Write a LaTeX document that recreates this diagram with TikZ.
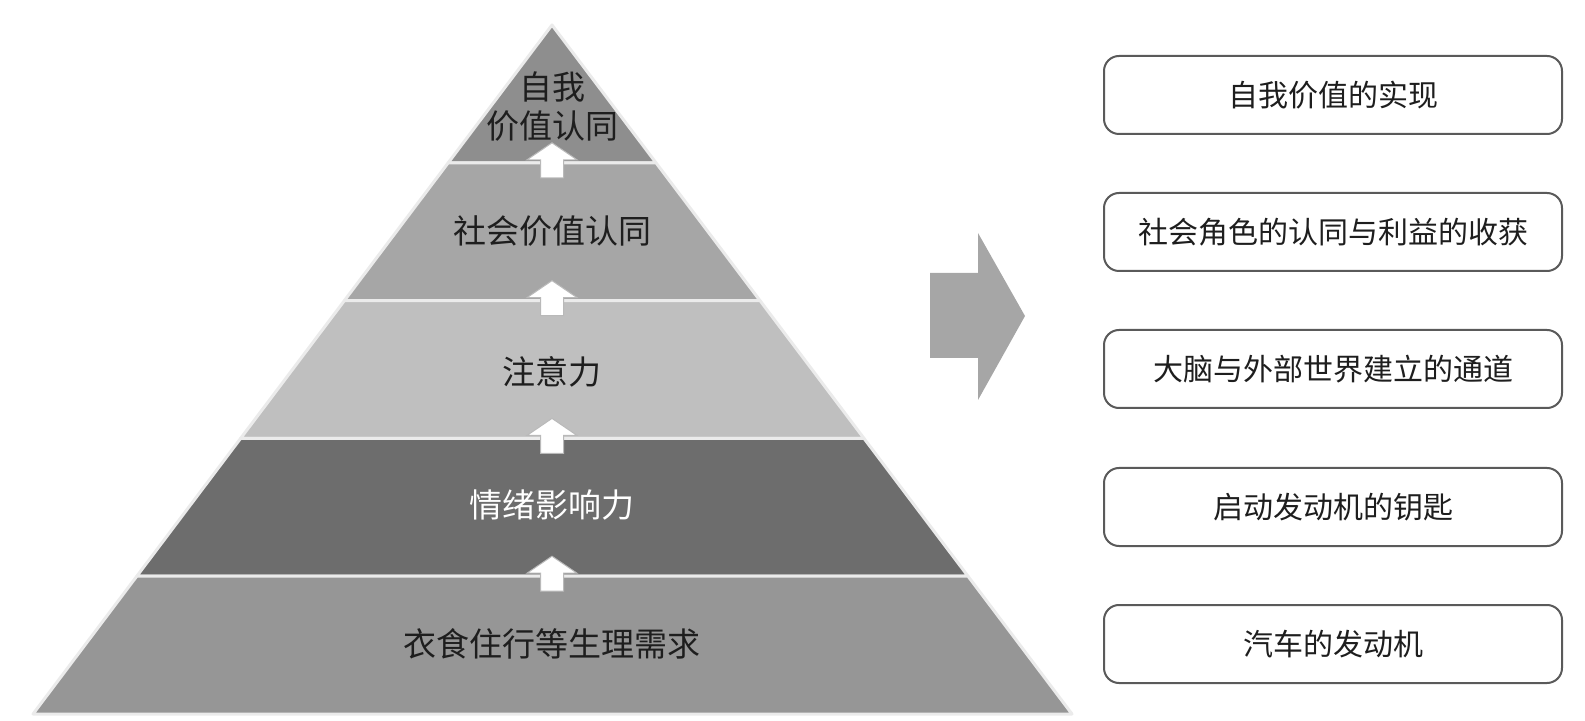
\documentclass[tikz,border=0pt]{standalone}
\usepackage{fontspec}
\setmainfont{Noto Sans CJK SC}
\usetikzlibrary{calc}
\definecolor{lyA}{HTML}{8E8E8E}
\definecolor{lyB}{HTML}{A6A6A6}
\definecolor{lyC}{HTML}{BFBFBF}
\definecolor{lyD}{HTML}{6D6D6D}
\definecolor{lyE}{HTML}{969696}
\definecolor{bigar}{HTML}{A6A6A6}
\definecolor{boxline}{HTML}{5A5A5A}
\definecolor{txt}{HTML}{1E1E1E}
\begin{document}
\begin{tikzpicture}[x=0.5pt,y=-0.5pt,
  layer/.style={draw=white!92!black, line width=1.5pt, line join=round},
  lbl/.style={font=\fontsize{16.5}{19.5}\selectfont, align=center, inner sep=0pt, text=txt},
  upar/.style={fill=white, draw=gray!55, line width=0.5pt, line join=miter},
  box/.style={draw=boxline, line width=1pt, rounded corners=7.5pt, fill=white,
    minimum width=229pt, minimum height=39pt, inner sep=0pt,
    font=\fontsize{15}{18}\selectfont, text=txt}]
\useasboundingbox (0,0) rectangle (1585,721);
\coordinate (apex) at (552,25);
\coordinate (bl) at (33,714);
\coordinate (br) at (1072,714);
% pyramid layers
\foreach \a/\b/\c in {0/0.2/lyA, 0.2/0.4/lyB, 0.4/0.6/lyC, 0.6/0.8/lyD, 0.8/1/lyE}{
  \filldraw[layer, fill=\c] ($(apex)!\a!(bl)$) -- ($(apex)!\b!(bl)$) -- ($(apex)!\b!(br)$) -- ($(apex)!\a!(br)$) -- cycle;
}
% labels
\node[lbl] (t1) at (552,107) {自我\\价值认同};
\node[lbl] (t2) at (552,231) {社会价值认同};
\node[lbl] (t3) at (552,372) {注意力};
\node[lbl, text=white] (t4) at (552,505) {情绪影响力};
\node[lbl] (t5) at (552,644) {衣食住行等生理需求};
% small up arrows
\foreach \b in {162.8, 300.6, 438.4, 576.2}{
  \draw[upar] (552,\b-20) -- (577,\b-3) -- (563.5,\b-3) -- (563.5,\b+15) -- (540.5,\b+15) -- (540.5,\b-3) -- (527,\b-3) -- cycle;
}
% big arrow
\fill[bigar] (930,273) -- (978,273) -- (978,233) -- (1025,316) -- (978,400) -- (978,358) -- (930,358) -- cycle;
% right boxes
\node[box] (r1) at (1333,95) {自我价值的实现};
\node[box] (r2) at (1333,232) {社会角色的认同与利益的收获};
\node[box] (r3) at (1333,369) {大脑与外部世界建立的通道};
\node[box] (r4) at (1333,507) {启动发动机的钥匙};
\node[box] (r5) at (1333,644) {汽车的发动机};
\end{tikzpicture}
\end{document}
